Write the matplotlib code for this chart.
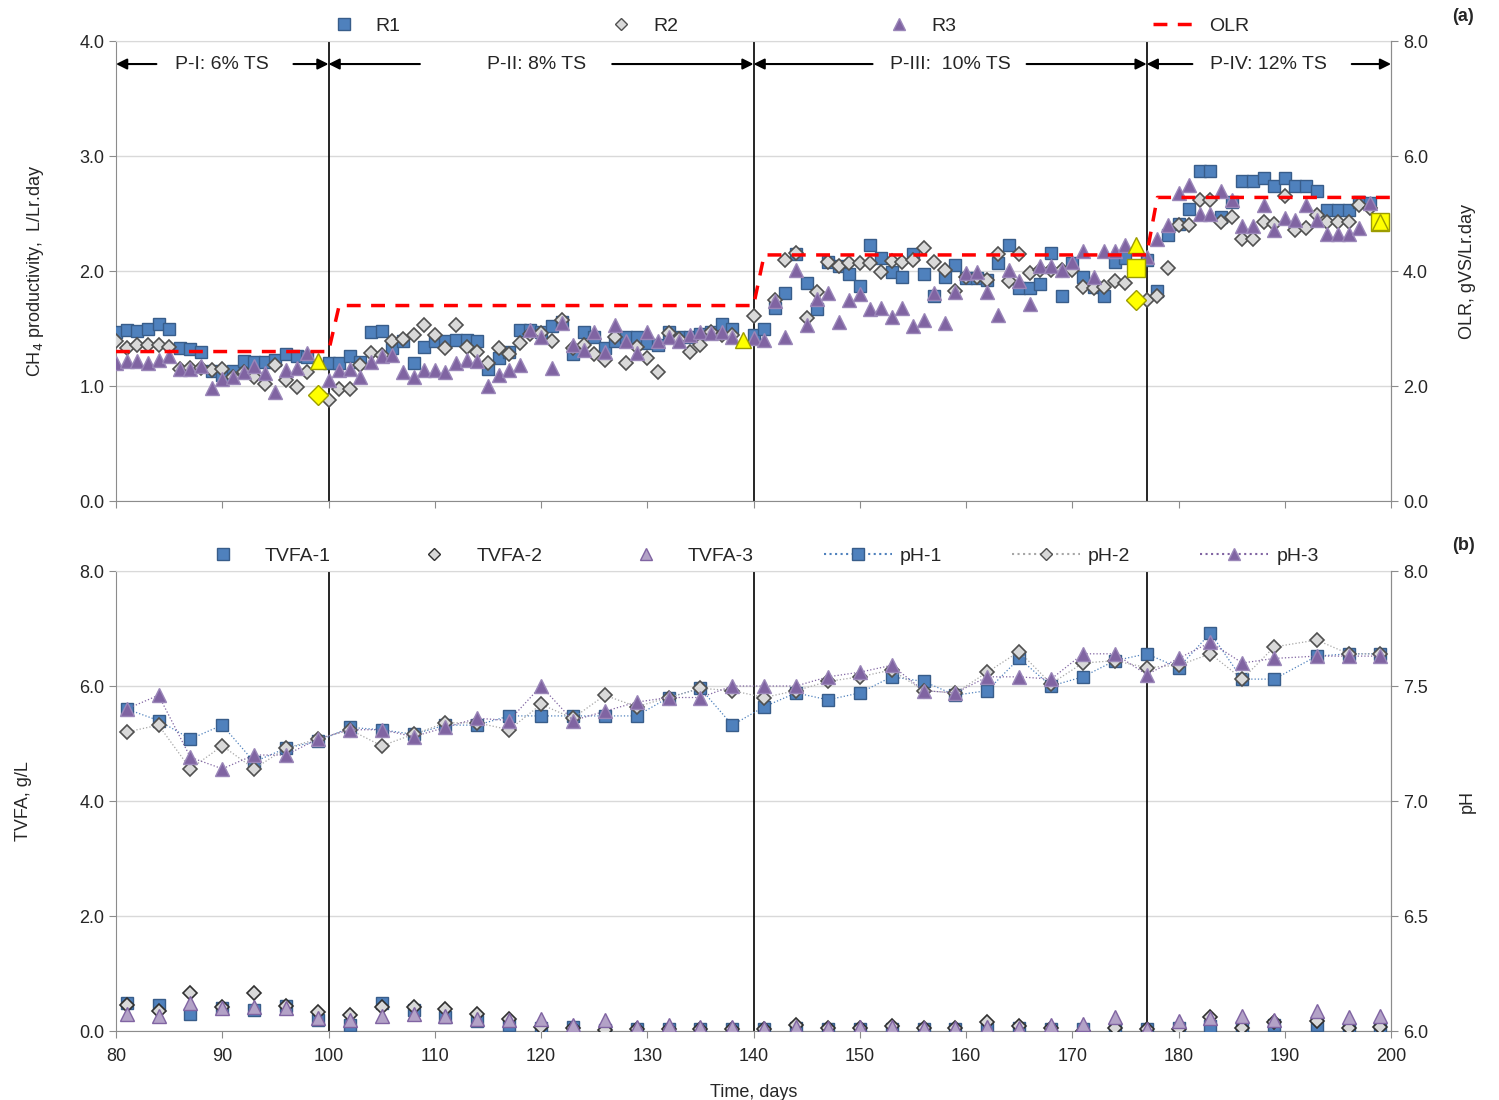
import numpy as np
import matplotlib
matplotlib.use('Agg')
import matplotlib.pyplot as plt
from matplotlib.lines import Line2D

plt.rcParams['font.family'] = ['Liberation Sans', 'DejaVu Sans']

# ---------- panel (a): CH4 productivity, L/Lr.day ----------
r1_days = [80, 81, 82, 83, 84, 85, 86, 87, 88, 89, 90, 91, 92, 93, 94, 95, 96, 97, 98,
           100, 101, 102, 103, 104, 105, 106, 107, 108, 109, 110, 111, 112, 113, 114, 115, 116, 117, 118, 119,
           120, 121, 122, 123, 124, 125, 126, 127, 128, 129, 130, 131, 132, 133, 134, 135, 136, 137, 138,
           140, 141, 142, 143, 144, 145, 146, 147, 148, 149, 150, 151, 152, 153, 154, 155, 156, 157, 158, 159,
           160, 161, 162, 163, 164, 165, 166, 167, 168, 169, 170, 171, 172, 173, 174, 175,
           177, 178, 179, 180, 181, 182, 183, 184, 185, 186, 187, 188, 189, 190, 191, 192, 193, 194, 195,
           196, 197, 198]
r1_vals = [1.47, 1.49, 1.48, 1.50, 1.54, 1.50, 1.33, 1.32, 1.30, 1.13, 1.10, 1.13, 1.22, 1.21, 1.21, 1.23, 1.28, 1.26, 1.25,
           1.20, 1.20, 1.26, 1.21, 1.47, 1.48, 1.33, 1.39, 1.20, 1.34, 1.39, 1.39, 1.40, 1.40, 1.39, 1.15, 1.24, 1.30, 1.49, 1.49,
           1.47, 1.52, 1.56, 1.28, 1.47, 1.43, 1.33, 1.39, 1.43, 1.43, 1.37, 1.36, 1.47, 1.43, 1.43, 1.45, 1.47, 1.54, 1.50,
           1.44, 1.50, 1.68, 1.81, 2.15, 1.90, 1.67, 2.08, 2.04, 1.97, 1.87, 2.23, 2.11, 1.99, 1.95, 2.15, 1.97, 1.78, 1.95, 2.05,
           1.94, 1.94, 1.92, 2.07, 2.23, 1.85, 1.85, 1.89, 2.16, 1.78, 2.07, 1.95, 1.86, 1.78, 2.08, 2.11,
           2.10, 1.83, 2.31, 2.41, 2.54, 2.87, 2.87, 2.47, 2.60, 2.78, 2.78, 2.81, 2.74, 2.81, 2.74, 2.74, 2.70, 2.53, 2.53,
           2.53, 2.60, 2.59]

r2_days = [80, 81, 82, 83, 84, 85, 86, 87, 88, 89, 90, 91, 92, 93, 94, 95, 96, 97, 98,
           100, 101, 102, 103, 104, 105, 106, 107, 108, 109, 110, 111, 112, 113, 114, 115, 116, 117, 118, 119,
           120, 121, 122, 123, 124, 125, 126, 127, 128, 129, 130, 131, 132, 133, 134, 135, 136, 137, 138,
           140, 142, 143, 144, 145, 146, 147, 148, 149, 150, 151, 152, 153, 154, 155, 156, 157, 158, 159,
           160, 161, 162, 163, 164, 165, 166, 167, 168, 169, 170, 171, 172, 173, 174, 175,
           177, 178, 179, 180, 181, 182, 183, 184, 185, 186, 187, 188, 189, 190, 191, 192, 193, 194, 195,
           196, 197, 198]
r2_vals = [1.39, 1.33, 1.36, 1.36, 1.36, 1.34, 1.15, 1.16, 1.16, 1.14, 1.15, 1.08, 1.12, 1.08, 1.02, 1.18, 1.05, 0.99, 1.12,
           0.88, 0.97, 0.97, 1.18, 1.29, 1.27, 1.39, 1.41, 1.44, 1.53, 1.44, 1.33, 1.53, 1.34, 1.30, 1.20, 1.33, 1.28, 1.37, 1.45,
           1.46, 1.39, 1.57, 1.33, 1.36, 1.28, 1.23, 1.43, 1.20, 1.34, 1.24, 1.12, 1.46, 1.41, 1.30, 1.36, 1.47, 1.44, 1.44,
           1.61, 1.75, 2.10, 2.16, 1.59, 1.82, 2.08, 2.04, 2.07, 2.07, 2.07, 1.99, 2.09, 2.08, 2.10, 2.20, 2.08, 2.01, 1.83,
           1.95, 1.95, 1.92, 2.15, 1.91, 2.15, 1.98, 2.01, 2.01, 2.01, 2.01, 1.86, 1.85, 1.86, 1.91, 1.90,
           1.75, 1.78, 2.03, 2.40, 2.40, 2.62, 2.62, 2.43, 2.47, 2.28, 2.28, 2.43, 2.41, 2.65, 2.36, 2.37, 2.49, 2.43, 2.43,
           2.43, 2.57, 2.55]

r3_days = [80, 81, 82, 83, 84, 85, 86, 87, 88, 89, 90, 91, 92, 93, 94, 95, 96, 97, 98,
           100, 101, 102, 103, 104, 105, 106, 107, 108, 109, 110, 111, 112, 113, 114, 115, 116, 117, 118, 119,
           120, 121, 122, 123, 124, 125, 126, 127, 128, 129, 130, 131, 132, 133, 134, 135, 136, 137, 138,
           140, 141, 142, 143, 144, 145, 146, 147, 148, 149, 150, 151, 152, 153, 154, 155, 156, 157, 158, 159,
           160, 161, 162, 163, 164, 165, 166, 167, 168, 169, 170, 171, 172, 173, 174, 175,
           177, 178, 179, 180, 181, 182, 183, 184, 185, 186, 187, 188, 189, 190, 191, 192, 193, 194, 195,
           196, 197, 198]
r3_vals = [1.20, 1.22, 1.22, 1.20, 1.23, 1.26, 1.15, 1.15, 1.17, 0.98, 1.06, 1.08, 1.12, 1.17, 1.11, 0.95, 1.14, 1.16, 1.29,
           1.05, 1.14, 1.15, 1.08, 1.21, 1.26, 1.27, 1.12, 1.08, 1.14, 1.14, 1.12, 1.20, 1.23, 1.22, 1.00, 1.10, 1.14, 1.18, 1.49,
           1.43, 1.16, 1.55, 1.36, 1.31, 1.47, 1.30, 1.53, 1.39, 1.29, 1.47, 1.39, 1.43, 1.39, 1.44, 1.47, 1.46, 1.47, 1.43,
           1.42, 1.40, 1.74, 1.43, 2.01, 1.53, 1.76, 1.81, 1.56, 1.75, 1.80, 1.67, 1.68, 1.60, 1.68, 1.52, 1.57, 1.81, 1.55, 1.82,
           1.98, 1.99, 1.82, 1.62, 2.01, 1.91, 1.71, 2.04, 2.04, 2.01, 2.08, 2.17, 1.95, 2.17, 2.17, 2.23,
           2.12, 2.28, 2.40, 2.68, 2.75, 2.50, 2.50, 2.70, 2.62, 2.39, 2.39, 2.57, 2.36, 2.46, 2.44, 2.57, 2.44, 2.32, 2.32,
           2.32, 2.37, 2.59]

# highlighted (yellow) points at the end of each phase
hl_sq_days = [176, 199]
hl_sq_vals = [2.03, 2.43]
hl_tri_days = [99, 139, 176, 199]
hl_tri_vals = [1.22, 1.40, 2.23, 2.43]
hl_dia_days = [99, 176]
hl_dia_vals = [0.92, 1.75]

# OLR, gVS/Lr.day (breakpoints of the stepped line)
olr_days = [80, 100, 101, 140, 141, 177, 178, 200]
olr_vals = [2.6, 2.6, 3.4, 3.4, 4.28, 4.28, 5.28, 5.28]

phase_bounds = [100, 140, 177]
phase_labels = ['P-I: 6% TS', 'P-II: 8% TS', 'P-III:  10% TS', 'P-IV: 12% TS']
phase_spans = [(80, 100), (100, 140), (140, 177), (177, 200)]
phase_text_x = [90, 119.6, 158.5, 188.5]
phase_gap = [(83.8, 96.7), (108.6, 126.7), (151.2, 165.7), (181.3, 196.3)]

# ---------- panel (b): TVFA and pH ----------
b_days = [81, 84, 87, 90, 93, 96, 99, 102, 105, 108, 111, 114, 117, 120, 123, 126, 129, 132, 135, 138,
          141, 144, 147, 150, 153, 156, 159, 162, 165, 168, 171, 174, 177, 180, 183, 186, 189, 193, 196, 199]
tvfa1 = [0.48, 0.45, 0.30, 0.40, 0.36, 0.43, 0.20, 0.10, 0.48, 0.36, 0.24, 0.17, 0.11, 0.05, 0.07, 0.01, 0.04, 0.04, 0.03, 0.04,
         0.03, 0.05, 0.04, 0.04, 0.04, 0.04, 0.04, 0.04, 0.05, 0.04, 0.04, 0.04, 0.04, 0.05, 0.09, 0.07, 0.10, 0.10, 0.04, 0.04]
tvfa2 = [0.45, 0.34, 0.67, 0.42, 0.67, 0.43, 0.33, 0.28, 0.42, 0.42, 0.38, 0.30, 0.21, 0.07, 0.05, 0.01, 0.04, 0.04, 0.04, 0.04,
         0.03, 0.10, 0.05, 0.05, 0.08, 0.05, 0.05, 0.16, 0.08, 0.05, 0.00, 0.05, 0.03, 0.04, 0.24, 0.05, 0.16, 0.17, 0.05, 0.07]
tvfa3 = [0.30, 0.27, 0.48, 0.40, 0.42, 0.40, 0.23, 0.20, 0.26, 0.30, 0.27, 0.21, 0.19, 0.21, 0.10, 0.19, 0.07, 0.10, 0.07, 0.07,
         0.05, 0.07, 0.05, 0.07, 0.07, 0.05, 0.05, 0.07, 0.05, 0.10, 0.12, 0.24, 0.04, 0.17, 0.23, 0.26, 0.19, 0.34, 0.24, 0.27]
ph1 = [7.40, 7.35, 7.27, 7.33, 7.17, 7.23, 7.26, 7.32, 7.31, 7.29, 7.33, 7.33, 7.37, 7.37, 7.37, 7.37, 7.37, 7.45, 7.49, 7.33,
       7.41, 7.47, 7.44, 7.47, 7.54, 7.52, 7.46, 7.48, 7.62, 7.50, 7.54, 7.61, 7.64, 7.58, 7.73, 7.53, 7.53, 7.63, 7.64, 7.64]
ph2 = [7.30, 7.33, 7.14, 7.24, 7.14, 7.23, 7.27, 7.31, 7.24, 7.29, 7.34, 7.34, 7.31, 7.42, 7.36, 7.46, 7.41, 7.45, 7.49, 7.48,
       7.45, 7.48, 7.52, 7.54, 7.57, 7.48, 7.47, 7.56, 7.65, 7.51, 7.60, 7.61, 7.58, 7.59, 7.64, 7.53, 7.67, 7.70, 7.64, 7.64]
ph3 = [7.40, 7.46, 7.19, 7.14, 7.20, 7.20, 7.27, 7.31, 7.31, 7.28, 7.32, 7.36, 7.35, 7.50, 7.35, 7.39, 7.43, 7.45, 7.45, 7.50,
       7.50, 7.50, 7.54, 7.56, 7.59, 7.48, 7.47, 7.54, 7.54, 7.53, 7.64, 7.64, 7.55, 7.62, 7.69, 7.60, 7.62, 7.63, 7.63, 7.63]

# colours
BLUE, BLUE_E = '#4F81BD', '#385D8A'
GREY, GREY_E = '#D9D9D9', '#505050'
PURP, PURP_E = '#8064A2', '#9A86B8'
LPURP = '#B3A2C7'
YEL, YEL_E = '#FFFF00', '#9C9C00'
GRID = '#D9D9D9'
AX = '#8C8C8C'
TXT = '#262626'


def style_axis(ax, twin):
    for s in ['left', 'right', 'bottom']:
        ax.spines[s].set_color(AX)
    ax.spines['top'].set_color(GRID)
    twin.spines['right'].set_color(AX)
    twin.spines['top'].set_visible(False)
    twin.spines['left'].set_visible(False)
    twin.spines['bottom'].set_visible(False)
    ax.tick_params(axis='both', direction='out', color=AX, labelsize=13, labelcolor=TXT, length=5)
    ax.tick_params(axis='x', pad=7)
    twin.tick_params(axis='y', direction='out', color=AX, labelsize=13, labelcolor=TXT, length=5)
    ax.set_xlim(80, 200)
    ax.set_xticks(np.arange(80, 201, 10))
    ax.grid(axis='y', color=GRID, lw=1)
    ax.set_axisbelow(True)
    for d in phase_bounds:
        ax.axvline(d, color='black', lw=1.2, zorder=1)


fig = plt.figure(figsize=(14.99, 11), dpi=100)
L, W, H = 0.0774, 0.8506, 0.4182

# ---- panel (a)
ax1 = fig.add_axes([L, 0.5445, W, H])
ax1r = ax1.twinx()
style_axis(ax1, ax1r)
ax1.set_ylim(0, 4)
ax1.set_yticks(np.arange(0, 4.01, 1.0))
ax1.yaxis.set_major_formatter(matplotlib.ticker.FormatStrFormatter('%.1f'))
ax1.set_xticklabels([])
ax1r.set_ylim(0, 8)
ax1r.set_yticks(np.arange(0, 8.01, 2.0))
ax1r.yaxis.set_major_formatter(matplotlib.ticker.FormatStrFormatter('%.1f'))

ax1.plot(r1_days, r1_vals, 's', ms=9, mfc=BLUE, mec=BLUE_E, mew=1, zorder=3)
ax1.plot(r2_days, r2_vals, 'D', ms=7, mfc=GREY, mec=GREY_E, mew=1.2, zorder=4)
ax1.plot(r3_days, r3_vals, '^', ms=10, mfc=PURP, mec=PURP_E, mew=1, zorder=5)
ax1.plot(hl_sq_days, hl_sq_vals, 's', ms=13, mfc=YEL, mec=YEL_E, mew=1, zorder=6)
ax1.plot(hl_tri_days, hl_tri_vals, '^', ms=12, mfc=YEL, mec=YEL_E, mew=1, zorder=7)
ax1.plot(hl_dia_days, hl_dia_vals, 'D', ms=10, mfc=YEL, mec=YEL_E, mew=1, zorder=7)
ax1r.plot(olr_days, olr_vals, '--', color='#FF0000', lw=2.5, dashes=(4, 3), zorder=8)

for (a, b), (g1, g2), tx, lab in zip(phase_spans, phase_gap, phase_text_x, phase_labels):
    ax1.annotate('', xy=(a, 3.8), xytext=(g1, 3.8),
                 arrowprops=dict(arrowstyle='-|>', color='black', lw=1.5, mutation_scale=16, shrinkA=0, shrinkB=0))
    ax1.annotate('', xy=(b, 3.8), xytext=(g2, 3.8),
                 arrowprops=dict(arrowstyle='-|>', color='black', lw=1.5, mutation_scale=16, shrinkA=0, shrinkB=0))
    ax1.text(tx, 3.8, lab, ha='center', va='center', fontsize=14, color=TXT)

ax1.set_ylabel('CH$_4$ productivity,  L/Lr.day', fontsize=13, color=TXT, labelpad=24)
ax1r.set_ylabel('OLR, gVS/Lr.day', fontsize=13, color=TXT, labelpad=22)

h_a = [Line2D([], [], ls='', marker='s', ms=8, mfc=BLUE, mec=BLUE_E),
       Line2D([], [], ls='', marker='D', ms=6, mfc=GREY, mec=GREY_E),
       Line2D([], [], ls='', marker='^', ms=9, mfc=PURP, mec=PURP_E),
       Line2D([], [], ls='--', color='#FF0000', lw=2.5, dashes=(4, 3))]
leg = ax1.legend(h_a, ['R1', 'R2', 'R3', 'OLR'], loc='lower center', bbox_to_anchor=(0.524, 0.975), ncol=4,
                 frameon=False, fontsize=14, columnspacing=10.1, handlelength=2.5, handletextpad=0.4)
for t in leg.get_texts():
    t.set_color(TXT)

# ---- panel (b)
ax2 = fig.add_axes([L, 0.0627, W, H])
ax2r = ax2.twinx()
style_axis(ax2, ax2r)
ax2.set_ylim(0, 8)
ax2.set_yticks(np.arange(0, 8.01, 2.0))
ax2.yaxis.set_major_formatter(matplotlib.ticker.FormatStrFormatter('%.1f'))
ax2r.set_ylim(6, 8)
ax2r.set_yticks(np.arange(6, 8.01, 0.5))
ax2r.yaxis.set_major_formatter(matplotlib.ticker.FormatStrFormatter('%.1f'))

ax2.plot(b_days, tvfa1, 's', ms=9, mfc=BLUE, mec=BLUE_E, mew=1, zorder=3)
ax2.plot(b_days, tvfa2, 'D', ms=7, mfc=GREY, mec='#303030', mew=1.2, zorder=4)
ax2.plot(b_days, tvfa3, '^', ms=10, mfc=LPURP, mec=PURP, mew=1, zorder=5)
ax2r.plot(b_days, ph1, ':', marker='s', ms=9, color=BLUE, lw=0.9, mfc=BLUE, mec=BLUE_E, mew=1, zorder=3)
ax2r.plot(b_days, ph2, ':', marker='D', ms=7, color='#A6A6A6', lw=0.9, mfc=GREY, mec=GREY_E, mew=1.2, zorder=4)
ax2r.plot(b_days, ph3, ':', marker='^', ms=10, color=PURP, lw=0.9, mfc=PURP, mec=PURP_E, mew=1, zorder=5)

ax2.set_ylabel('TVFA, g/L', fontsize=13, color=TXT, labelpad=34)
ax2r.set_ylabel('pH', fontsize=13, color=TXT, labelpad=22)
ax2.set_xlabel('Time, days', fontsize=13, color=TXT, labelpad=14)

h_b = [Line2D([], [], ls='', marker='s', ms=8, mfc=BLUE, mec=BLUE_E),
       Line2D([], [], ls='', marker='D', ms=6, mfc=GREY, mec='#303030'),
       Line2D([], [], ls='', marker='^', ms=9, mfc=LPURP, mec=PURP),
       Line2D([], [], ls=':', marker='s', ms=8, color=BLUE, mfc=BLUE, mec=BLUE_E),
       Line2D([], [], ls=':', marker='D', ms=6, color='#A6A6A6', mfc=GREY, mec=GREY_E),
       Line2D([], [], ls=':', marker='^', ms=9, color=PURP, mfc=PURP, mec=PURP_E)]
leg2 = ax2.legend(h_b, ['TVFA-1', 'TVFA-2', 'TVFA-3', 'pH-1', 'pH-2', 'pH-3'], loc='lower center',
                  bbox_to_anchor=(0.5, 0.975), ncol=6, frameon=False, fontsize=14,
                  columnspacing=3.6, handlelength=3.5, handletextpad=0.4)
for t in leg2.get_texts():
    t.set_color(TXT)

fig.text(0.976, 0.985, '(a)', fontsize=13, fontweight='bold', ha='center', va='center', color=TXT)
fig.text(0.976, 0.5045, '(b)', fontsize=13, fontweight='bold', ha='center', va='center', color=TXT)

fig.savefig('out.png', dpi=100)
